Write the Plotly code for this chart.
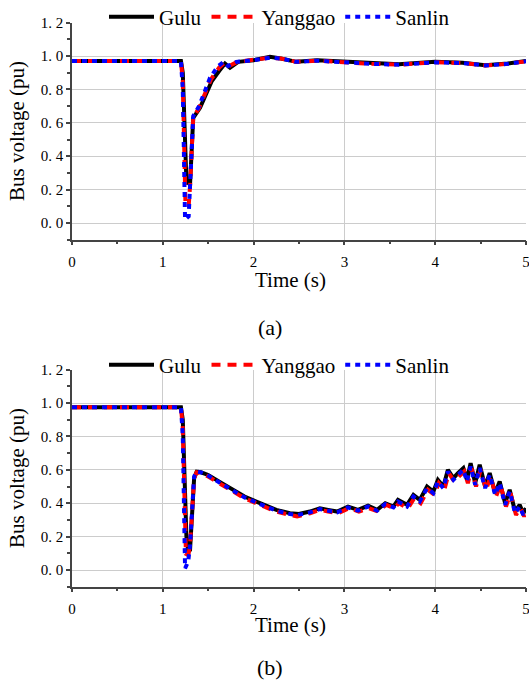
import plotly.graph_objects as go

# ---------------- data (a) ----------------
ta_gulu = [0, 1.2, 1.22, 1.26, 1.30, 1.335, 1.41, 1.54, 1.62, 1.685, 1.74, 1.83, 2.0, 2.18, 2.3, 2.47, 2.7, 3.0, 3.3, 3.6, 4.0, 4.3, 4.55, 4.8, 5.0]
va_gulu = [0.97, 0.97, 0.90, 0.25, 0.23, 0.63, 0.69, 0.85, 0.91, 0.955, 0.93, 0.965, 0.975, 0.995, 0.985, 0.965, 0.975, 0.965, 0.955, 0.95, 0.965, 0.96, 0.945, 0.955, 0.97]

ta_yang = [0, 1.2, 1.22, 1.25, 1.285, 1.30, 1.335, 1.40, 1.53, 1.62, 1.68, 1.73, 1.82, 2.0, 2.18, 2.3, 2.47, 2.7, 3.0, 3.3, 3.6, 4.0, 4.3, 4.55, 4.8, 5.0]
va_yang = [0.97, 0.97, 0.85, 0.10, 0.10, 0.22, 0.63, 0.69, 0.86, 0.93, 0.96, 0.94, 0.965, 0.975, 0.99, 0.985, 0.965, 0.972, 0.962, 0.953, 0.948, 0.962, 0.958, 0.943, 0.953, 0.968]

ta_san = [0, 1.2, 1.22, 1.245, 1.285, 1.30, 1.335, 1.40, 1.52, 1.61, 1.67, 1.72, 1.81, 2.0, 2.18, 2.3, 2.47, 2.7, 3.0, 3.3, 3.6, 4.0, 4.3, 4.55, 4.8, 5.0]
va_san = [0.97, 0.97, 0.80, 0.02, 0.04, 0.25, 0.64, 0.70, 0.87, 0.94, 0.965, 0.94, 0.965, 0.975, 0.99, 0.985, 0.965, 0.972, 0.962, 0.953, 0.948, 0.962, 0.958, 0.943, 0.953, 0.968]

# ---------------- data (b) ----------------
tb_gulu = [0, 1.2, 1.22, 1.26, 1.28, 1.30, 1.345, 1.373, 1.42, 1.5, 1.65, 1.777, 1.9, 2.07, 2.25, 2.4, 2.5, 2.62, 2.73, 2.82, 2.92, 3.04, 3.15, 3.26, 3.36, 3.45, 3.54, 3.59, 3.69, 3.76, 3.83, 3.91, 3.98, 4.03, 4.09, 4.14, 4.20, 4.25, 4.31, 4.35, 4.39, 4.44, 4.49, 4.55, 4.60, 4.66, 4.71, 4.77, 4.82, 4.88, 4.93, 4.97, 5.0]
vb_gulu = [0.975, 0.975, 0.9, 0.2, 0.11, 0.12, 0.55, 0.589, 0.585, 0.569, 0.52, 0.479, 0.44, 0.40, 0.36, 0.34, 0.335, 0.35, 0.37, 0.36, 0.35, 0.38, 0.36, 0.385, 0.36, 0.40, 0.38, 0.42, 0.39, 0.45, 0.42, 0.50, 0.47, 0.54, 0.50, 0.60, 0.55, 0.58, 0.61, 0.54, 0.64, 0.52, 0.63, 0.50, 0.58, 0.46, 0.53, 0.40, 0.48, 0.35, 0.39, 0.34, 0.37]

tb_yang = [0, 1.2, 1.22, 1.255, 1.285, 1.30, 1.345, 1.373, 1.42, 1.5, 1.65, 1.777, 1.9, 2.07, 2.25, 2.4, 2.48, 2.62, 2.73, 2.82, 2.93, 3.05, 3.16, 3.27, 3.37, 3.46, 3.55, 3.60, 3.70, 3.77, 3.84, 3.92, 3.99, 4.04, 4.10, 4.15, 4.21, 4.26, 4.32, 4.36, 4.40, 4.45, 4.50, 4.56, 4.61, 4.67, 4.72, 4.78, 4.83, 4.89, 4.94, 4.98, 5.0]
vb_yang = [0.975, 0.975, 0.85, 0.09, 0.10, 0.15, 0.55, 0.585, 0.58, 0.56, 0.51, 0.47, 0.43, 0.39, 0.35, 0.33, 0.32, 0.34, 0.36, 0.35, 0.34, 0.37, 0.35, 0.37, 0.35, 0.39, 0.37, 0.40, 0.37, 0.43, 0.40, 0.48, 0.45, 0.52, 0.48, 0.58, 0.53, 0.56, 0.59, 0.52, 0.61, 0.50, 0.60, 0.48, 0.56, 0.44, 0.51, 0.38, 0.46, 0.33, 0.37, 0.32, 0.35]

tb_san = [0, 1.2, 1.22, 1.245, 1.28, 1.30, 1.345, 1.373, 1.42, 1.5, 1.65, 1.777, 1.9, 2.07, 2.25, 2.4, 2.49, 2.62, 2.73, 2.82, 2.92, 3.04, 3.15, 3.26, 3.36, 3.45, 3.54, 3.59, 3.69, 3.76, 3.83, 3.91, 3.98, 4.03, 4.09, 4.14, 4.20, 4.25, 4.31, 4.35, 4.39, 4.44, 4.49, 4.55, 4.60, 4.66, 4.71, 4.77, 4.82, 4.88, 4.93, 4.97, 5.0]
vb_san = [0.975, 0.975, 0.8, 0.01, 0.05, 0.15, 0.56, 0.59, 0.585, 0.565, 0.515, 0.475, 0.435, 0.395, 0.355, 0.335, 0.33, 0.345, 0.365, 0.355, 0.345, 0.375, 0.355, 0.38, 0.355, 0.395, 0.375, 0.41, 0.38, 0.44, 0.41, 0.49, 0.46, 0.53, 0.49, 0.59, 0.54, 0.57, 0.60, 0.53, 0.62, 0.51, 0.61, 0.49, 0.57, 0.45, 0.52, 0.39, 0.47, 0.34, 0.38, 0.33, 0.36]

names = ["Gulu", "Yanggao", "Sanlin"]
y_ticks = [0.0, 0.2, 0.4, 0.6, 0.8, 1.0, 1.2]
y_ticktext = ["0. 0", "0. 2", "0. 4", "0. 6", "0. 8", "1. 0", "1. 2"]
x_ticks = [0, 1, 2, 3, 4, 5]

FONT = "Liberation Serif"
styles = [dict(color="black", width=4, dash="solid"),
          dict(color="#ff0000", width=4, dash="9px,7px"),
          dict(color="#0000ff", width=4, dash="5px,5px")]

fig = go.Figure()
sets_a = [(ta_gulu, va_gulu), (ta_yang, va_yang), (ta_san, va_san)]
sets_b = [(tb_gulu, vb_gulu), (tb_yang, vb_yang), (tb_san, vb_san)]
for i, (t, v) in enumerate(sets_a):
    fig.add_trace(go.Scatter(x=t, y=v, mode="lines", name=names[i], line=styles[i],
                             xaxis="x", yaxis="y", legend="legend", cliponaxis=False))
for i, (t, v) in enumerate(sets_b):
    fig.add_trace(go.Scatter(x=t, y=v, mode="lines", name=names[i], line=styles[i],
                             xaxis="x2", yaxis="y2", legend="legend2", cliponaxis=False))

xdom = [72 / 529, 526 / 529]
ydom_a = [1 - 239.7 / 683, 1 - 22.6 / 683]
ydom_b = [1 - 586.7 / 683, 1 - 369.6 / 683]

def xax(anchor):
    return dict(domain=xdom, anchor=anchor, range=[0, 5], tickvals=x_ticks, automargin=False,
                ticklabeloverflow="allow", ticklabelstandoff=4,
                ticks="outside", ticklen=4, tickwidth=1.5, tickcolor="#444",
                showline=True, linecolor="#444", linewidth=1.5,
                showgrid=True, gridcolor="#cccccc", gridwidth=1.2, zeroline=False,
                minor=dict(dtick=0.5, ticks="outside", ticklen=3, tickcolor="#444", showgrid=False),
                tickfont=dict(family=FONT, size=15, color="black"))

def yax(anchor, dom):
    return dict(domain=dom, anchor=anchor, range=[-0.1, 1.2], tickvals=y_ticks, ticktext=y_ticktext,
                automargin=False, ticklabeloverflow="allow",
                ticks="outside", ticklen=4, tickwidth=1.5, tickcolor="#444",
                showline=True, linecolor="#444", linewidth=1.5,
                showgrid=True, gridcolor="#cccccc", gridwidth=1.2, zeroline=False,
                minor=dict(dtick=0.1, ticks="outside", ticklen=3, tickcolor="#444", showgrid=False),
                tickfont=dict(family=FONT, size=15, color="black"))

leg = dict(orientation="h", xanchor="left", yanchor="middle", bgcolor="rgba(0,0,0,0)",
           xref="container", yref="container",
           font=dict(family=FONT, size=21, color="black"), itemwidth=45,
           tracegroupgap=0, itemclick=False)

fig.update_layout(
    width=529, height=683, margin=dict(l=0, r=0, t=0, b=0, autoexpand=False),
    paper_bgcolor="white", plot_bgcolor="white",
    xaxis=xax("y"), yaxis=yax("x", ydom_a),
    xaxis2=xax("y2"), yaxis2=yax("x2", ydom_b),
    legend=dict(leg, x=104 / 529, y=1 - 17 / 683),
    legend2=dict(leg, x=104 / 529, y=1 - 365 / 683),
    showlegend=True,
)

ann = []
for cy in [280, 625]:
    ann.append(dict(text="Time (s)", x=290 / 529, y=1 - cy / 683, xref="paper", yref="paper",
                    xanchor="center", yanchor="middle",
                    showarrow=False, font=dict(family=FONT, size=21, color="black")))
for cy in [131, 478]:
    ann.append(dict(text="Bus voltage (pu)", x=17 / 529, y=1 - cy / 683, xref="paper", yref="paper",
                    xanchor="center", yanchor="middle",
                    textangle=-90, showarrow=False, font=dict(family=FONT, size=21, color="black")))
for txt, cy in [("(a)", 327), ("(b)", 667)]:
    ann.append(dict(text=txt, x=270 / 529, y=1 - cy / 683, xref="paper", yref="paper",
                    xanchor="center", yanchor="middle",
                    showarrow=False, font=dict(family=FONT, size=22, color="black")))
fig.update_layout(annotations=ann)

fig.write_html("out.html", config={"displayModeBar": False},
               post_script="document.body.style.margin='0px';document.body.style.overflow='hidden';")
